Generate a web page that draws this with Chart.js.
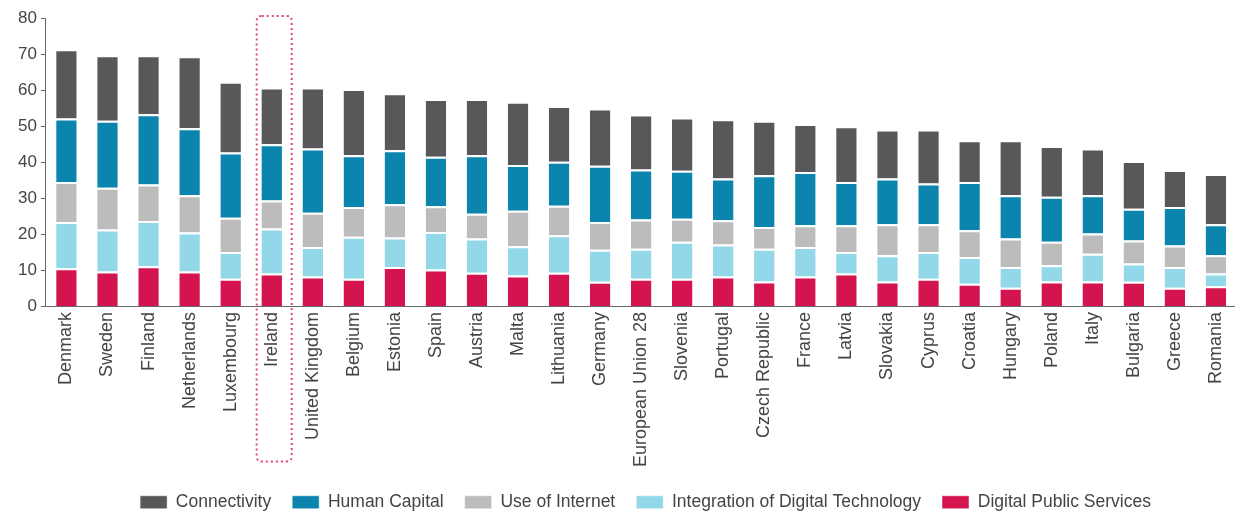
<!DOCTYPE html>
<html>
<head>
<meta charset="utf-8">
<script src="https://cdn.jsdelivr.net/npm/chart.js@4.4.1/dist/chart.umd.min.js"></script>
<style>
  html, body { margin: 0; padding: 0; background: #fff; overflow: hidden; }
  canvas { display: block; }
</style>
</head>
<body>
<canvas id="desi-chart" width="1243" height="513"></canvas>
<script>
const countries = [
  "Denmark", "Sweden", "Finland", "Netherlands", "Luxembourg", "Ireland",
  "United Kingdom", "Belgium", "Estonia", "Spain", "Austria", "Malta",
  "Lithuania", "Germany", "European Union 28", "Slovenia", "Portugal",
  "Czech Republic", "France", "Latvia", "Slovakia", "Cyprus", "Croatia",
  "Hungary", "Poland", "Italy", "Bulgaria", "Greece", "Romania"
];

const digitalPublicServices = [
  10.6, 9.7, 11.1, 9.7, 7.7, 9.1, 8.3, 7.7, 10.9, 10.2, 9.3, 8.6, 9.3, 6.8,
  7.7, 7.7, 8.3, 6.9, 8.3, 9.1, 6.9, 7.7, 6.3, 5.2, 6.9, 6.9, 6.8, 5.2, 5.6
];
const integrationOfDigitalTech = [
  12.8, 11.6, 12.6, 10.8, 7.4, 12.5, 8.2, 11.6, 8.2, 10.4, 9.5, 8.1, 10.4, 8.9,
  8.3, 10.2, 8.9, 9.1, 8.2, 6.0, 7.3, 7.4, 7.4, 5.7, 4.5, 7.7, 5.1, 5.7, 3.5
];
const useOfInternet = [
  11.1, 11.6, 10.1, 10.3, 9.5, 7.8, 9.5, 8.3, 9.2, 7.2, 6.9, 9.8, 8.2, 7.7,
  8.1, 6.4, 6.7, 6.0, 6.0, 7.4, 8.6, 7.7, 7.4, 7.9, 6.5, 5.6, 6.4, 6.0, 5.1
];
const humanCapital = [
  17.6, 18.6, 19.5, 18.6, 18.1, 15.6, 17.8, 14.3, 15.0, 13.7, 16.2, 12.7, 12.2, 15.6,
  13.9, 13.3, 11.6, 14.4, 14.8, 12.0, 12.7, 11.3, 13.4, 12.0, 12.5, 10.6, 8.8, 10.7, 8.6
];
const connectivity = [
  19.2, 18.2, 16.4, 20.0, 19.6, 15.7, 16.9, 18.4, 15.8, 16.0, 15.6, 17.6, 15.5, 15.9,
  15.2, 14.8, 16.4, 15.1, 13.3, 15.5, 13.6, 15.0, 11.6, 15.3, 14.1, 13.0, 13.2, 10.2, 13.9
];

const highlighted = "Ireland";
const fontFamily = "'Liberation Sans', Arial, sans-serif";

// dotted frame around the highlighted country, from the top of the axis down past its label
const highlightBox = {
  id: "highlightBox",
  afterDraw(chart) {
    const x = chart.scales.x;
    const y = chart.scales.y;
    const cx = x.getPixelForValue(countries.indexOf(highlighted));
    const left = cx - 15, right = cx + 20;
    const top = y.getPixelForValue(80) - 2;
    const bottom = chart.chartArea.bottom + 155;
    const r = 5;
    const ctx = chart.ctx;
    ctx.save();
    ctx.strokeStyle = "#e2457c";
    ctx.lineWidth = 2;
    ctx.setLineDash([2, 3]);
    ctx.beginPath();
    ctx.moveTo(left + r, top);
    ctx.lineTo(right - r, top);
    ctx.quadraticCurveTo(right, top, right, top + r);
    ctx.lineTo(right, bottom - r);
    ctx.quadraticCurveTo(right, bottom, right - r, bottom);
    ctx.lineTo(left + r, bottom);
    ctx.quadraticCurveTo(left, bottom, left, bottom - r);
    ctx.lineTo(left, top + r);
    ctx.quadraticCurveTo(left, top, left + r, top);
    ctx.stroke();
    ctx.restore();
  }
};

// nudge the legend row to the right, under the middle of the bars
const legendShift = {
  id: "legendShift",
  afterLayout(chart) {
    if (chart.legend) {
      chart.legend.left += 17;
      chart.legend.right += 17;
    }
  }
};

const makeSet = (label, data, color) => ({
  label: label,
  data: data,
  backgroundColor: color,
  borderColor: "#fff",
  borderWidth: { top: 2, right: 0, bottom: 0, left: 0 },
  borderSkipped: false,
  barPercentage: 0.5,
  categoryPercentage: 1.0
});

new Chart(document.getElementById("desi-chart"), {
  type: "bar",
  data: {
    labels: countries,
    datasets: [
      makeSet("Digital Public Services", digitalPublicServices, "#d3144f"),
      makeSet("Integration of Digital Technology", integrationOfDigitalTech, "#93d8e8"),
      makeSet("Use of Internet", useOfInternet, "#bcbcbc"),
      makeSet("Human Capital", humanCapital, "#0b85ae"),
      makeSet("Connectivity", connectivity, "#58585a")
    ]
  },
  options: {
    responsive: false,
    animation: false,
    layout: { padding: { top: 18, left: 14, right: 0, bottom: -8 } },
    plugins: {
      tooltip: { enabled: false },
      legend: {
        position: "bottom",
        reverse: true,
        labels: {
          boxWidth: 27,
          boxHeight: 13,
          padding: 21,
          color: "#444",
          font: { family: fontFamily, size: 17.5 }
        }
      }
    },
    scales: {
      x: {
        stacked: true,
        grid: { display: false, drawTicks: false },
        border: { display: true, color: "#666", width: 1 },
        ticks: {
          autoSkip: false,
          minRotation: 90,
          maxRotation: 90,
          padding: 5.5,
          color: "#444",
          font: { family: fontFamily, size: 18 }
        }
      },
      y: {
        stacked: true,
        min: 0,
        max: 80,
        grid: { drawOnChartArea: false, tickLength: 5, color: "#666" },
        border: { display: true, color: "#666", width: 1 },
        ticks: {
          stepSize: 10,
          padding: 4,
          color: "#444",
          font: { family: fontFamily, size: 17 }
        }
      }
    }
  },
  plugins: [highlightBox, legendShift]
});
</script>
</body>
</html>
